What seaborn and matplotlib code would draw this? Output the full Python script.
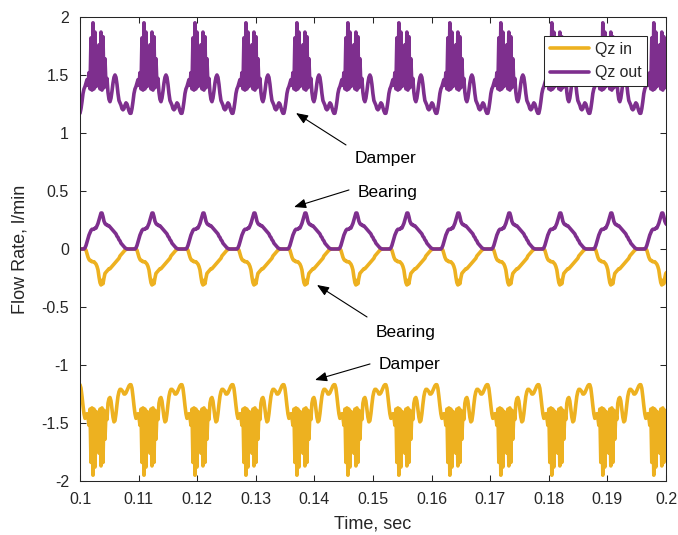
import numpy as np
import pandas as pd
import matplotlib
matplotlib.use("Agg")
import matplotlib.pyplot as plt
import seaborn as sns

# ---------------- data ----------------
t_start = 0.1
t_end = 0.2
cycle_period = 0.0087          # s, spacing of the repeating pulsation
samples_per_cycle = 51         # samples read per pulsation cycle

# one pulsation cycle of each trace, starting at the damper-out trough
damper_out_cycle = [
    1.17, 1.21, 1.27, 1.34, 1.38, 1.40, 1.43, 1.46, 1.41, 1.52,
    1.38, 1.82, 1.37, 1.95, 1.38, 1.87, 1.40, 1.60, 1.41, 1.76,
    1.38, 1.87, 1.37, 1.83, 1.39, 1.64, 1.41, 1.47, 1.35, 1.29,
    1.27, 1.30, 1.36, 1.43, 1.48, 1.50, 1.48, 1.42, 1.34, 1.28,
    1.26, 1.24, 1.21, 1.20, 1.21, 1.24, 1.26, 1.25, 1.22, 1.19,
    1.17,
]
bearing_out_cycle = [
    0.00, 0.00, 0.00, 0.00, 0.00, 0.01, 0.03, 0.06, 0.09, 0.12,
    0.14, 0.16, 0.17, 0.17, 0.17, 0.18, 0.18, 0.20, 0.22, 0.25,
    0.28, 0.31, 0.31, 0.28, 0.24, 0.22, 0.21, 0.21, 0.20, 0.20,
    0.19, 0.18, 0.17, 0.16, 0.15, 0.14, 0.13, 0.11, 0.10, 0.08,
    0.07, 0.05, 0.04, 0.03, 0.02, 0.01, 0.005, 0.00, 0.00, 0.00,
    0.00,
]
bearing_in_cycle = [
    0.00, 0.00, 0.00, 0.00, 0.00, 0.00, -0.01, -0.04, -0.07, -0.09,
    -0.10, -0.10, -0.11, -0.11, -0.11, -0.12, -0.13, -0.15, -0.18, -0.24,
    -0.29, -0.31, -0.27, -0.30, -0.25, -0.21, -0.20, -0.19, -0.18, -0.17,
    -0.17, -0.16, -0.15, -0.14, -0.13, -0.12, -0.11, -0.10, -0.09, -0.08,
    -0.06, -0.05, -0.04, -0.03, -0.02, -0.01, -0.005, 0.00, 0.00, 0.00,
    0.00,
]
damper_in_cycle = [
    -1.17, -1.20, -1.27, -1.35, -1.42, -1.46, -1.44, -1.42, -1.45, -1.52,
    -1.38, -1.84, -1.37, -1.95, -1.38, -1.88, -1.40, -1.60, -1.41, -1.76,
    -1.38, -1.87, -1.37, -1.84, -1.39, -1.64, -1.41, -1.47, -1.33, -1.29,
    -1.28, -1.31, -1.38, -1.45, -1.49, -1.48, -1.42, -1.34, -1.27, -1.23,
    -1.21, -1.21, -1.22, -1.23, -1.25, -1.25, -1.24, -1.22, -1.20, -1.18,
    -1.17,
]

series_names = ["Qz in", "Qz out"]
series_colors = ["#EDB120", "#7E2F8E"]

x_ticks = [0.1, 0.11, 0.12, 0.13, 0.14, 0.15, 0.16, 0.17, 0.18, 0.19, 0.2]
x_tick_labels = ["0.1", "0.11", "0.12", "0.13", "0.14", "0.15",
                 "0.16", "0.17", "0.18", "0.19", "0.2"]
y_ticks = [-2, -1.5, -1, -0.5, 0, 0.5, 1, 1.5, 2]
y_tick_labels = ["-2", "-1.5", "-1", "-0.5", "0", "0.5", "1", "1.5", "2"]

# ---------------- build long table ----------------
traces = [
    ("Qz in", "bearing", bearing_in_cycle),
    ("Qz in", "damper", damper_in_cycle),
    ("Qz out", "bearing", bearing_out_cycle),
    ("Qz out", "damper", damper_out_cycle),
]
n_cycles = int(np.ceil((t_end - t_start) / cycle_period)) + 1
dt = cycle_period / samples_per_cycle
rows = []
for name, part, cyc in traces:
    for k in range(n_cycles):
        for i, v in enumerate(cyc[:samples_per_cycle]):
            t = t_start + k * cycle_period + i * dt
            if t <= t_end + dt:
                rows.append((name, part, t, v))
df = pd.DataFrame(rows, columns=["series", "part", "time", "flow"])

# ---------------- plot ----------------
sns.set_style("white")
plt.rcParams["font.family"] = ["Liberation Sans", "DejaVu Sans"]
plt.rcParams["axes.unicode_minus"] = False
plt.rcParams["path.simplify"] = False

fig = plt.figure(figsize=(6.78, 5.35), dpi=100)
ax = fig.add_axes([80 / 678, 54 / 535, 586 / 678, 464 / 535])

sns.lineplot(data=df, x="time", y="flow", hue="series", units="part",
             estimator=None, sort=False, hue_order=series_names,
             palette=dict(zip(series_names, series_colors)),
             linewidth=2.6, ax=ax)
for ln in ax.get_lines():
    ln.set_solid_joinstyle("round")
    ln.set_solid_capstyle("round")

ax.set_xlim(t_start, t_end)
ax.set_ylim(-2, 2)
ax.set_xticks(x_ticks)
ax.set_xticklabels(x_tick_labels)
ax.set_yticks(y_ticks)
ax.set_yticklabels(y_tick_labels)
ax.tick_params(direction="in", length=4, width=0.75, top=True, right=True,
               bottom=True, left=True, colors="#262626", labelsize=11.5,
               pad=8)
for s in ax.spines.values():
    s.set_color("#262626")
    s.set_linewidth(0.75)

ax.set_xlabel("Time, sec", fontsize=13, color="#262626", labelpad=6)
ax.set_ylabel("Flow Rate, l/min", fontsize=13, color="#262626", labelpad=9)

sns.move_legend(ax, loc="upper right", bbox_to_anchor=(0.9676, 0.959),
                borderaxespad=0, title=None, frameon=True, fancybox=False,
                edgecolor="#262626", framealpha=1, fontsize=11.4,
                handlelength=2.5, handletextpad=0.35, labelspacing=0.55,
                borderpad=0.35)
leg = ax.get_legend()
leg.get_frame().set_linewidth(0.75)
for h in leg.legend_handles:
    h.set_linewidth(2.6)

arrow_kw = dict(arrowstyle="-|>,head_length=0.45,head_width=0.18",
                color="black", lw=0.8, mutation_scale=16,
                shrinkA=0, shrinkB=0)
annots = [
    ("Damper", (0.15205, 0.776), (0.14539, 0.897), (0.13686, 1.172)),
    ("Bearing", (0.15247, 0.491), (0.14590, 0.509), (0.13652, 0.362)),
    ("Bearing", (0.15555, -0.716), (0.14898, -0.586), (0.14044, -0.310)),
    ("Damper", (0.15631, -1.0), (0.14949, -0.991), (0.14010, -1.129)),
]
for label, txt_pos, tail, tip in annots:
    ax.annotate("", xy=tip, xytext=tail, arrowprops=arrow_kw)
    ax.text(txt_pos[0], txt_pos[1], label, ha="center", va="center",
            fontsize=12.5, color="black")

fig.savefig("out.png", dpi=100)
